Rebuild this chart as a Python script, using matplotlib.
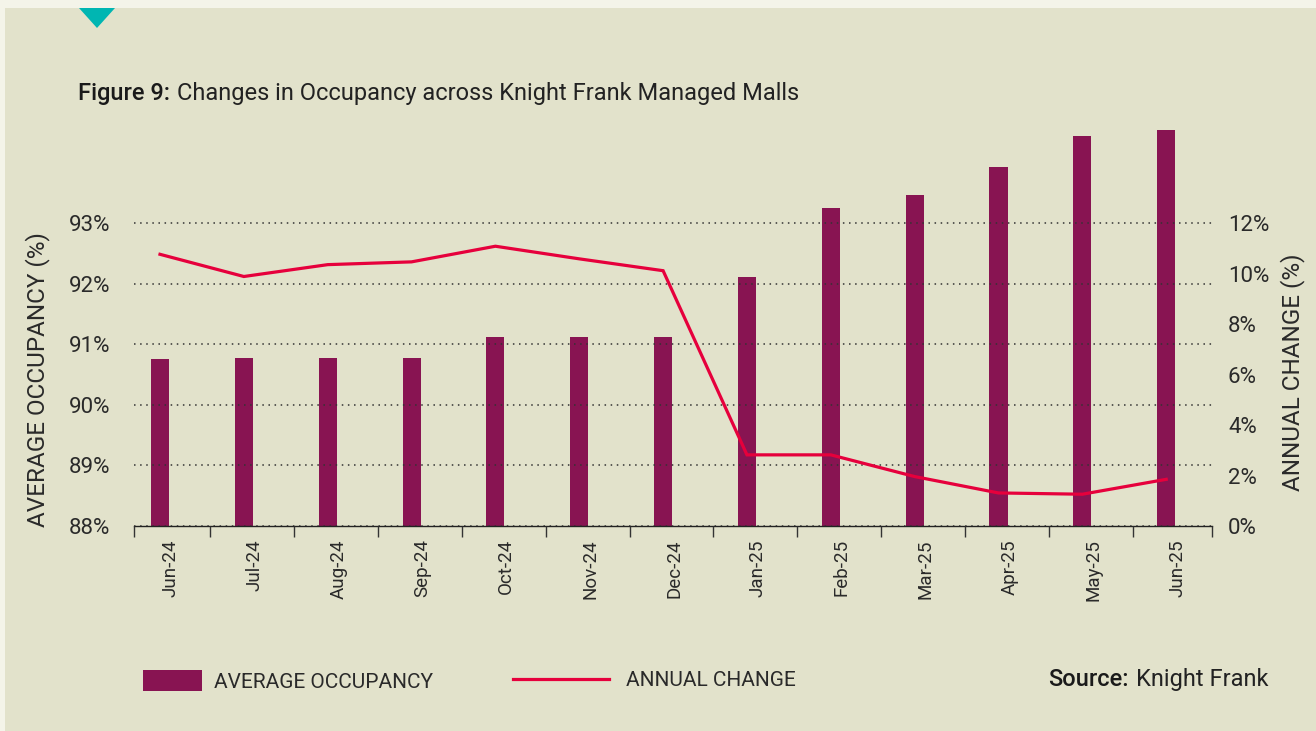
import matplotlib
matplotlib.use('Agg')
import matplotlib.pyplot as plt
from matplotlib.patches import Polygon, Rectangle
from matplotlib.ticker import FuncFormatter
import numpy as np

months = ['Jun-24', 'Jul-24', 'Aug-24', 'Sep-24', 'Oct-24', 'Nov-24', 'Dec-24',
          'Jan-25', 'Feb-25', 'Mar-25', 'Apr-25', 'May-25', 'Jun-25']
occupancy = [90.75, 90.78, 90.78, 90.78, 91.12, 91.12, 91.12,
             92.11, 93.25, 93.47, 93.93, 94.44, 94.54]
annual_change = [10.77, 9.89, 10.36, 10.47, 11.09, 10.59, 10.12,
                 2.82, 2.82, 1.96, 1.31, 1.26, 1.85]
left_ticks = [88, 89, 90, 91, 92, 93]
right_ticks = [0, 2, 4, 6, 8, 10, 12]

bg = '#e2e2cb'
bar_col = '#881452'
line_col = '#e6003c'
txt = '#2a2a2a'

plt.rcParams['font.family'] = ['Roboto', 'DejaVu Sans']

W, H = 1316, 731
fig = plt.figure(figsize=(W / 100, H / 100), dpi=100)
fig.patch.set_facecolor(bg)

# light frame strips and teal marker
fig.patches.append(Rectangle((0, 1 - 8 / H), 1, 8 / H, transform=fig.transFigure,
                             facecolor='#f4f4e9', edgecolor='none'))
fig.patches.append(Rectangle((0, 0), 5 / W, 1, transform=fig.transFigure,
                             facecolor='#f4f4e9', edgecolor='none'))
fig.patches.append(Polygon([(79 / W, 1 - 8 / H), (115 / W, 1 - 8 / H), (97 / W, 1 - 28 / H)],
                           closed=True, transform=fig.transFigure,
                           facecolor='#00b6b2', edgecolor='none'))

ax = fig.add_axes([134 / W, 1 - 526 / H, (1212 - 134) / W, (526 - 110) / H])
ax.set_facecolor('none')
x = np.arange(len(months))

bars = ax.bar(x, occupancy, width=0.215, color=bar_col, zorder=1, label='AVERAGE OCCUPANCY')
ax.set_xlim(-0.31, 12.546)
ax.set_ylim(88, 94.87)
ax.set_yticks(left_ticks)
ax.yaxis.set_major_formatter(FuncFormatter(lambda v, p: f'{v:.0f}%'))
ax.grid(axis='y', color='#333333', linestyle=(0, (1, 3)), linewidth=1.1)
ax.set_axisbelow(False)

for s in ['top', 'right', 'left']:
    ax.spines[s].set_visible(False)
ax.spines['bottom'].set_color('#222222')
ax.spines['bottom'].set_linewidth(1.0)

ax.set_xticks(x + 0.13)
ax.set_xticklabels(months, rotation=90, fontsize=13.5, color=txt)
ax.tick_params(axis='x', which='major', length=0, pad=9.5)
ax.set_xticks(list(np.arange(12) + 0.6) + [-0.31, 12.546], minor=True)
ax.tick_params(axis='x', which='minor', length=8, width=1.0, color='#333333', direction='out')
ax.tick_params(axis='y', length=0, pad=17, labelsize=16, labelcolor=txt)

ax2 = ax.twinx()
line, = ax2.plot(x, annual_change, color=line_col, linewidth=2.3, label='ANNUAL CHANGE',
                 solid_joinstyle='miter')
ax2.set_ylim(0, 16.49)
ax2.set_yticks(right_ticks)
ax2.yaxis.set_major_formatter(FuncFormatter(lambda v, p: f'{v:.0f}%'))
ax2.tick_params(axis='y', length=0, pad=11.5, labelsize=16, labelcolor=txt)
for s in ['top', 'right', 'left', 'bottom']:
    ax2.spines[s].set_visible(False)

# axis titles
fig.text(38 / W, 1 - 380 / H, 'AVERAGE OCCUPANCY (%)', rotation=90, ha='center', va='center',
         fontsize=17.5, color=txt)
fig.text(1293 / W, 1 - 372 / H, 'ANNUAL CHANGE (%)', rotation=90, ha='center', va='center',
         fontsize=17.5, color=txt)

# title
t1 = fig.text(78 / W, 1 - 100 / H, 'Figure 9:', fontsize=17, color='#1a1a1a',
              fontweight='medium', va='baseline')
ax.annotate('Changes in Occupancy across Knight Frank Managed Malls',
            xy=(1, 1 - 100 / H), xycoords=(t1, 'figure fraction'),
            xytext=(5, 0), textcoords='offset points', va='baseline', ha='left',
            fontsize=17, color='#222222', annotation_clip=False)

# source
s2 = fig.text(1268 / W, 1 - 686 / H, 'Knight Frank', fontsize=17, color='#222222',
              ha='right', va='baseline')
ax.annotate('Source:', xy=(0, 1 - 686 / H), xycoords=(s2, 'figure fraction'),
            xytext=(-5, 0), textcoords='offset points', va='baseline', ha='right',
            fontsize=17, color='#1a1a1a', fontweight='medium', annotation_clip=False)

# legends
leg1 = fig.legend(handles=[bars], loc='center left', bbox_to_anchor=(143 / W, 1 - 681 / H),
                  frameon=False, borderpad=0, borderaxespad=0, handlelength=2.83,
                  handleheight=1.13, handletextpad=0.57, prop={'size': 15})
leg2 = fig.legend(handles=[line], loc='center left', bbox_to_anchor=(513 / W, 1 - 681 / H),
                  frameon=False, borderpad=0, borderaxespad=0, handlelength=4.6,
                  handletextpad=0.8, prop={'size': 15})
for lg in (leg1, leg2):
    for tx in lg.get_texts():
        tx.set_color(txt)

fig.savefig('out.png', dpi=100, facecolor=bg)
